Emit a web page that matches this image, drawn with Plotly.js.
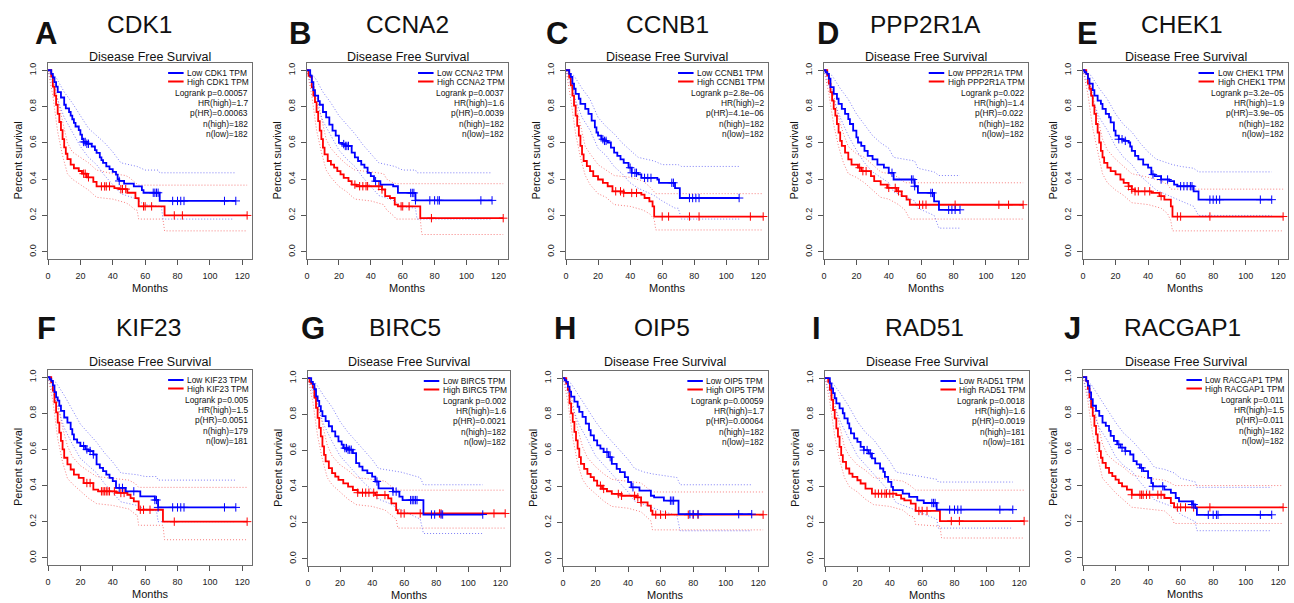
<!DOCTYPE html>
<html>
<head>
<meta charset="utf-8">
<script src="https://cdn.plot.ly/plotly-3.0.1.min.js"></script>
<style>
  html, body { margin: 0; padding: 0; background: #fff; }
  #chart { width: 1294px; height: 603px; }
</style>
</head>
<body>
<div id="chart"></div>
<script>
// ---- Kaplan–Meier step data: [months, survival] -------------------------
const genes   = ['CDK1','CCNA2','CCNB1','PPP2R1A','CHEK1','KIF23','BIRC5','OIP5','RAD51','RACGAP1'];
const letters = ['A','B','C','D','E','F','G','H','I','J'];
const xTicks  = [0, 20, 40, 60, 80, 100, 120];
const yTicks  = [0, 0.2, 0.4, 0.6, 0.8, 1.0];
const yTickText = ['0.0','0.2','0.4','0.6','0.8','1.0'];

// CDK1
const CDK1_low  = [[0,1],[2,0.98],[3,0.96],[4,0.935],[5,0.91],[6,0.88],[8,0.85],[10,0.81],[11,0.79],[13,0.77],[14,0.75],[15,0.73],[16,0.71],[17,0.69],[19,0.67],[20,0.645],[21,0.62],[22,0.605],[24,0.595],[27,0.58],[29,0.56],[30,0.545],[32,0.52],[33,0.505],[34,0.49],[36,0.47],[38,0.455],[40,0.44],[42,0.425],[43,0.4],[44,0.39],[47,0.375],[53,0.36],[58,0.34],[59,0.325],[69,0.28],[116,0.28]];
const CDK1_high = [[0,1],[2,0.965],[3,0.91],[4,0.86],[5,0.81],[6,0.76],[7,0.715],[8,0.67],[9,0.62],[10,0.575],[11,0.54],[12,0.51],[14,0.48],[16,0.46],[19,0.445],[21,0.43],[24,0.41],[28,0.385],[30,0.36],[41,0.35],[44,0.345],[49,0.325],[54,0.295],[56,0.25],[72,0.2],[123,0.2]];
const CDK1_lowCens  = [22,23,24,25,44,65,66,67,68,77,80,82,84,109,116];
const CDK1_highCens = [22,23,25,33,35,36,38,45,46,48,59,60,64,78,83,123];
const CDK1_lowUp  = [[0,1],[5,0.96],[10,0.88],[15,0.82],[20,0.75],[25,0.68],[30,0.64],[35,0.6],[40,0.55],[45,0.49],[55,0.47],[60,0.45],[68,0.45],[69,0.435],[116,0.435]];
const CDK1_lowDn  = [[0,1],[5,0.86],[10,0.74],[15,0.66],[20,0.58],[25,0.52],[30,0.48],[35,0.42],[40,0.37],[45,0.32],[55,0.29],[59,0.26],[70,0.25],[71,0.18],[114,0.18]];
const CDK1_highUp = [[0,1],[3,0.96],[6,0.84],[9,0.72],[12,0.6],[15,0.55],[20,0.52],[25,0.49],[30,0.45],[40,0.43],[48,0.42],[50,0.41],[54,0.38],[56,0.367],[123,0.367]];
const CDK1_highDn = [[0,1],[3,0.86],[6,0.66],[9,0.53],[12,0.43],[15,0.4],[20,0.37],[25,0.34],[30,0.3],[40,0.29],[48,0.27],[50,0.26],[54,0.23],[55,0.23],[56,0.18],[71,0.18],[72,0.115],[123,0.115]];
const CDK1_stats = ['Logrank p=0.00057','HR(high)=1.7','p(HR)=0.00063','n(high)=182','n(low)=182'];

// CCNA2
const CCNA2_low  = [[0,1],[2,0.97],[3,0.935],[4,0.89],[5,0.86],[7,0.83],[8,0.81],[10,0.77],[12,0.74],[14,0.7],[16,0.667],[18,0.64],[20,0.6],[22,0.593],[24,0.583],[28,0.546],[30,0.52],[32,0.5],[34,0.48],[36,0.463],[38,0.435],[40,0.417],[42,0.389],[46,0.37],[54,0.361],[57,0.324],[68,0.283],[116,0.283]];
const CCNA2_high = [[0,1],[1,0.97],[2,0.963],[3,0.907],[4,0.86],[5,0.824],[6,0.77],[7,0.72],[8,0.667],[9,0.62],[10,0.574],[11,0.537],[13,0.5],[15,0.48],[17,0.463],[19,0.444],[21,0.426],[23,0.407],[26,0.389],[28,0.37],[31,0.361],[47,0.343],[49,0.306],[52,0.296],[55,0.26],[57,0.25],[71,0.185],[123,0.185]];
const CCNA2_lowCens  = [23,24,25,26,43,65,66,67,68,77,80,82,83,109,116];
const CCNA2_highCens = [30,33,35,37,38,45,47,59,60,64,78,123];
const CCNA2_lowUp  = [[0,1],[5,0.96],[10,0.88],[15,0.82],[20,0.75],[25,0.7],[30,0.65],[35,0.59],[40,0.54],[45,0.49],[55,0.47],[60,0.45],[68,0.45],[69,0.435],[116,0.435]];
const CCNA2_lowDn  = [[0,1],[5,0.84],[10,0.72],[15,0.64],[20,0.56],[25,0.51],[30,0.47],[35,0.41],[40,0.36],[45,0.31],[55,0.28],[59,0.25],[68,0.24],[69,0.18],[116,0.18]];
const CCNA2_highUp = [[0,1],[3,0.96],[6,0.86],[9,0.74],[12,0.62],[15,0.57],[20,0.52],[25,0.48],[30,0.45],[40,0.44],[48,0.43],[50,0.4],[54,0.38],[56,0.375],[123,0.375]];
const CCNA2_highDn = [[0,1],[3,0.86],[6,0.67],[9,0.55],[12,0.45],[15,0.41],[20,0.36],[25,0.33],[30,0.29],[40,0.28],[48,0.26],[50,0.23],[54,0.2],[56,0.18],[71,0.18],[72,0.095],[123,0.095]];
const CCNA2_stats = ['Logrank p=0.0037','HR(high)=1.6','p(HR)=0.0039','n(high)=182','n(low)=182'];

// CCNB1
const CCNB1_low  = [[0,1],[2,0.98],[3,0.963],[4,0.926],[5,0.898],[6,0.87],[8,0.843],[9,0.815],[12,0.787],[14,0.76],[16,0.722],[18,0.685],[19,0.657],[20,0.64],[22,0.62],[24,0.611],[26,0.602],[28,0.574],[30,0.546],[32,0.528],[34,0.509],[36,0.49],[39,0.463],[41,0.435],[45,0.426],[47,0.407],[57,0.398],[58,0.38],[68,0.35],[71,0.296],[108,0.296]];
const CCNB1_high = [[0,1],[2,0.96],[3,0.917],[4,0.86],[5,0.805],[6,0.75],[7,0.694],[8,0.64],[9,0.583],[10,0.537],[11,0.5],[13,0.472],[15,0.444],[17,0.417],[20,0.398],[23,0.38],[26,0.361],[29,0.333],[36,0.324],[47,0.315],[49,0.296],[52,0.278],[54,0.25],[55,0.194],[123,0.194]];
const CCNB1_lowCens  = [23,24,25,40,41,43,44,49,51,53,66,67,77,79,81,83,108];
const CCNB1_highCens = [31,34,36,41,44,60,64,77,83,115,123];
const CCNB1_lowUp  = [[0,1],[5,0.97],[10,0.9],[15,0.84],[20,0.74],[25,0.69],[30,0.65],[35,0.6],[40,0.56],[45,0.52],[55,0.5],[60,0.48],[70,0.48],[72,0.47],[108,0.47]];
const CCNB1_lowDn  = [[0,1],[5,0.86],[10,0.74],[15,0.67],[20,0.57],[25,0.53],[30,0.47],[35,0.43],[40,0.38],[45,0.35],[55,0.31],[60,0.28],[68,0.24],[70,0.24],[72,0.18],[108,0.18]];
const CCNB1_highUp = [[0,1],[3,0.95],[6,0.82],[9,0.7],[12,0.58],[15,0.54],[20,0.48],[25,0.45],[30,0.42],[40,0.41],[48,0.39],[52,0.36],[55,0.33],[56,0.32],[123,0.32]];
const CCNB1_highDn = [[0,1],[3,0.84],[6,0.65],[9,0.52],[12,0.42],[15,0.37],[20,0.32],[25,0.3],[30,0.26],[40,0.25],[48,0.23],[52,0.21],[55,0.18],[56,0.12],[123,0.12]];
const CCNB1_stats = ['Logrank p=2.8e\u221206','HR(high)=2','p(HR)=4.1e\u221206','n(high)=182','n(low)=182'];

// PPP2R1A
const PPP2R1A_low  = [[0,1],[1,0.99],[2,0.98],[3,0.954],[4,0.907],[6,0.87],[8,0.843],[9,0.815],[11,0.787],[13,0.76],[15,0.731],[16,0.704],[18,0.667],[20,0.63],[21,0.602],[23,0.583],[25,0.556],[27,0.528],[30,0.509],[33,0.48],[37,0.463],[40,0.435],[43,0.398],[56,0.361],[58,0.324],[68,0.278],[71,0.231],[84,0.231]];
const PPP2R1A_high = [[0,1],[2,0.97],[3,0.926],[4,0.88],[5,0.833],[6,0.787],[7,0.75],[8,0.704],[9,0.657],[10,0.611],[11,0.583],[13,0.546],[15,0.509],[17,0.48],[21,0.463],[23,0.444],[29,0.417],[31,0.389],[35,0.37],[39,0.352],[45,0.333],[48,0.306],[51,0.287],[53,0.259],[123,0.259]];
const PPP2R1A_lowCens  = [42,54,55,56,66,67,77,79,81,84];
const PPP2R1A_highCens = [22,24,26,40,44,46,59,61,63,81,108,114,123];
const PPP2R1A_lowUp  = [[0,1],[5,0.97],[10,0.9],[15,0.84],[20,0.76],[25,0.7],[30,0.64],[35,0.6],[40,0.57],[43,0.52],[56,0.5],[58,0.46],[68,0.44],[71,0.42],[84,0.42]];
const PPP2R1A_lowDn  = [[0,1],[5,0.86],[10,0.74],[15,0.64],[20,0.56],[25,0.49],[30,0.44],[35,0.41],[40,0.38],[43,0.33],[56,0.28],[58,0.24],[68,0.2],[71,0.13],[84,0.13]];
const PPP2R1A_highUp = [[0,1],[3,0.96],[6,0.86],[9,0.74],[12,0.65],[15,0.58],[20,0.54],[25,0.52],[30,0.48],[35,0.44],[40,0.43],[46,0.41],[50,0.38],[53,0.38],[123,0.38]];
const PPP2R1A_highDn = [[0,1],[3,0.87],[6,0.7],[9,0.58],[12,0.49],[15,0.43],[20,0.41],[25,0.38],[30,0.34],[35,0.3],[40,0.29],[46,0.26],[50,0.23],[53,0.18],[123,0.18]];
const PPP2R1A_stats = ['Logrank p=0.022','HR(high)=1.4','p(HR)=0.022','n(high)=182','n(low)=182'];

// CHEK1
const CHEK1_low  = [[0,1],[1,0.99],[2,0.98],[3,0.954],[4,0.926],[6,0.89],[7,0.86],[9,0.833],[11,0.815],[12,0.787],[14,0.76],[16,0.741],[17,0.713],[19,0.667],[20,0.64],[22,0.62],[25,0.611],[28,0.602],[29,0.58],[30,0.556],[32,0.528],[34,0.509],[37,0.48],[40,0.463],[42,0.426],[44,0.417],[48,0.398],[53,0.389],[56,0.37],[58,0.361],[68,0.333],[71,0.287],[116,0.287]];
const CHEK1_high = [[0,1],[2,0.98],[3,0.926],[4,0.898],[5,0.86],[6,0.805],[7,0.76],[8,0.704],[9,0.657],[10,0.602],[11,0.556],[12,0.52],[13,0.49],[15,0.463],[17,0.444],[20,0.426],[23,0.398],[25,0.38],[28,0.361],[30,0.343],[32,0.333],[42,0.324],[47,0.306],[50,0.287],[54,0.25],[55,0.194],[123,0.194]];
const CHEK1_lowCens  = [22,24,26,43,48,52,60,62,64,66,67,78,80,82,84,109,116];
const CHEK1_highCens = [28,30,32,34,38,41,48,58,60,78,123];
const CHEK1_lowUp  = [[0,1],[5,0.97],[10,0.9],[15,0.84],[20,0.76],[25,0.7],[30,0.66],[35,0.6],[40,0.55],[45,0.51],[55,0.48],[60,0.47],[68,0.46],[71,0.44],[116,0.44]];
const CHEK1_lowDn  = [[0,1],[5,0.86],[10,0.74],[15,0.67],[20,0.58],[25,0.52],[30,0.48],[35,0.42],[40,0.38],[45,0.34],[55,0.3],[60,0.28],[68,0.25],[71,0.2],[116,0.2]];
const CHEK1_highUp = [[0,1],[3,0.97],[6,0.86],[9,0.74],[12,0.62],[15,0.56],[20,0.51],[25,0.47],[30,0.43],[40,0.41],[48,0.39],[52,0.37],[54,0.345],[123,0.345]];
const CHEK1_highDn = [[0,1],[3,0.87],[6,0.68],[9,0.55],[12,0.43],[15,0.38],[20,0.34],[25,0.31],[30,0.27],[40,0.26],[48,0.24],[52,0.21],[54,0.17],[55,0.115],[123,0.115]];
const CHEK1_stats = ['Logrank p=3.2e\u221205','HR(high)=1.9','p(HR)=3.9e\u221205','n(high)=182','n(low)=182'];

// KIF23
const KIF23_low  = [[0,1],[1,0.99],[2,0.98],[3,0.955],[4,0.918],[5,0.888],[6,0.87],[7,0.842],[8,0.814],[10,0.777],[12,0.749],[14,0.712],[15,0.684],[16,0.656],[18,0.638],[20,0.619],[23,0.6],[25,0.591],[28,0.572],[30,0.517],[32,0.498],[34,0.48],[36,0.461],[38,0.442],[40,0.424],[42,0.387],[48,0.368],[57,0.34],[66,0.32],[68,0.279],[116,0.279]];
const KIF23_high = [[0,1],[2,0.972],[3,0.926],[4,0.861],[5,0.805],[6,0.749],[7,0.693],[8,0.647],[9,0.6],[10,0.554],[12,0.517],[14,0.489],[16,0.461],[19,0.442],[22,0.414],[28,0.377],[31,0.368],[42,0.359],[49,0.349],[51,0.33],[53,0.312],[56,0.266],[71,0.2],[123,0.2]];
const KIF23_lowCens  = [22,24,26,28,44,46,53,66,67,68,77,80,82,84,109,116];
const KIF23_highCens = [24,26,33,34,35,36,37,38,41,45,47,57,59,63,78,123];
const KIF23_lowUp  = [[0,1],[5,0.97],[10,0.9],[15,0.82],[20,0.74],[25,0.69],[30,0.64],[35,0.58],[40,0.53],[45,0.47],[55,0.46],[60,0.45],[67,0.45],[68,0.43],[116,0.43]];
const KIF23_lowDn  = [[0,1],[5,0.86],[10,0.72],[15,0.63],[20,0.55],[25,0.51],[30,0.47],[35,0.41],[40,0.36],[45,0.31],[55,0.29],[60,0.27],[67,0.26],[68,0.2],[116,0.2]];
const KIF23_highUp = [[0,1],[3,0.96],[6,0.86],[9,0.72],[12,0.62],[15,0.56],[20,0.51],[25,0.48],[30,0.45],[40,0.44],[50,0.43],[54,0.41],[56,0.39],[123,0.39]];
const KIF23_highDn = [[0,1],[3,0.87],[6,0.66],[9,0.53],[12,0.44],[15,0.41],[20,0.37],[25,0.33],[30,0.3],[40,0.29],[50,0.27],[54,0.24],[55,0.24],[56,0.18],[71,0.18],[72,0.1],[123,0.1]];
const KIF23_stats = ['Logrank p=0.005','HR(high)=1.5','p(HR)=0.0051','n(high)=179','n(low)=181'];

// BIRC5
const BIRC5_low  = [[0,1],[2,0.98],[3,0.967],[4,0.939],[5,0.9],[6,0.874],[7,0.846],[8,0.818],[9,0.79],[11,0.762],[13,0.734],[15,0.706],[17,0.678],[19,0.65],[21,0.632],[22,0.613],[25,0.604],[28,0.585],[30,0.53],[32,0.51],[34,0.49],[37,0.474],[40,0.455],[42,0.428],[44,0.39],[53,0.372],[57,0.344],[59,0.325],[72,0.245],[109,0.245]];
const BIRC5_high = [[0,1],[1,0.98],[2,0.97],[3,0.948],[4,0.892],[5,0.836],[6,0.78],[7,0.725],[8,0.678],[9,0.623],[10,0.576],[11,0.539],[13,0.502],[15,0.474],[17,0.455],[19,0.437],[22,0.418],[25,0.4],[28,0.381],[31,0.366],[42,0.353],[50,0.335],[52,0.307],[55,0.27],[56,0.251],[123,0.251]];
const BIRC5_lowCens  = [23,24,25,26,27,43,53,55,64,65,66,67,68,77,79,83,84,109];
const BIRC5_highCens = [31,34,36,38,41,43,48,58,60,70,82,83,116,123];
const BIRC5_lowUp  = [[0,1],[5,0.97],[10,0.9],[15,0.84],[20,0.76],[25,0.7],[30,0.65],[35,0.6],[40,0.55],[44,0.5],[50,0.49],[58,0.48],[70,0.45],[72,0.41],[109,0.41]];
const BIRC5_lowDn  = [[0,1],[5,0.87],[10,0.74],[15,0.65],[20,0.57],[25,0.52],[30,0.47],[35,0.42],[40,0.38],[44,0.33],[50,0.31],[58,0.27],[70,0.22],[72,0.14],[109,0.14]];
const BIRC5_highUp = [[0,1],[3,0.96],[6,0.86],[9,0.74],[12,0.63],[15,0.57],[20,0.52],[25,0.49],[30,0.45],[40,0.44],[48,0.43],[52,0.4],[56,0.38],[123,0.38]];
const BIRC5_highDn = [[0,1],[3,0.87],[6,0.68],[9,0.55],[12,0.45],[15,0.41],[20,0.37],[25,0.33],[30,0.3],[40,0.29],[48,0.27],[52,0.24],[55,0.22],[56,0.17],[123,0.17]];
const BIRC5_stats = ['Logrank p=0.002','HR(high)=1.6','p(HR)=0.0021','n(high)=182','n(low)=182'];

// OIP5
const OIP5_low  = [[0,1],[1,0.99],[2,0.98],[3,0.953],[4,0.926],[5,0.898],[7,0.87],[9,0.842],[10,0.814],[12,0.786],[14,0.749],[16,0.712],[17,0.684],[19,0.656],[21,0.628],[23,0.61],[25,0.591],[28,0.563],[30,0.526],[33,0.498],[35,0.48],[38,0.452],[40,0.424],[42,0.396],[47,0.377],[54,0.349],[56,0.34],[62,0.322],[71,0.247],[116,0.247]];
const OIP5_high = [[0,1],[2,0.97],[3,0.935],[4,0.861],[5,0.805],[6,0.758],[7,0.703],[8,0.656],[9,0.61],[10,0.563],[11,0.526],[13,0.498],[15,0.47],[17,0.452],[19,0.433],[21,0.405],[24,0.387],[27,0.374],[30,0.359],[36,0.349],[45,0.34],[48,0.312],[52,0.294],[54,0.266],[55,0.244],[123,0.244]];
const OIP5_lowCens  = [27,29,43,66,67,68,78,80,83,108,116];
const OIP5_highCens = [23,25,34,36,44,46,48,57,60,63,77,80,83,123];
const OIP5_lowUp  = [[0,1],[5,0.97],[10,0.9],[15,0.83],[20,0.76],[25,0.7],[30,0.65],[35,0.6],[40,0.55],[44,0.5],[50,0.48],[55,0.47],[62,0.46],[70,0.45],[72,0.41],[116,0.41]];
const OIP5_lowDn  = [[0,1],[5,0.86],[10,0.74],[15,0.66],[20,0.57],[25,0.52],[30,0.47],[35,0.42],[40,0.37],[44,0.32],[50,0.3],[55,0.28],[62,0.26],[70,0.24],[72,0.155],[116,0.155]];
const OIP5_highUp = [[0,1],[3,0.96],[6,0.86],[9,0.72],[12,0.62],[15,0.56],[20,0.51],[25,0.47],[30,0.44],[40,0.43],[48,0.42],[52,0.39],[55,0.37],[123,0.37]];
const OIP5_highDn = [[0,1],[3,0.87],[6,0.67],[9,0.53],[12,0.44],[15,0.4],[20,0.36],[25,0.32],[30,0.29],[40,0.28],[48,0.26],[52,0.23],[54,0.21],[55,0.16],[123,0.16]];
const OIP5_stats = ['Logrank p=0.00059','HR(high)=1.7','p(HR)=0.00064','n(high)=182','n(low)=182'];

// RAD51
const RAD51_low  = [[0,1],[3,0.972],[4,0.944],[5,0.917],[6,0.889],[7,0.861],[9,0.833],[11,0.806],[12,0.778],[14,0.75],[15,0.722],[16,0.694],[18,0.667],[20,0.648],[22,0.62],[24,0.602],[27,0.583],[29,0.556],[31,0.528],[34,0.5],[36,0.481],[37,0.454],[39,0.426],[41,0.398],[42,0.38],[48,0.361],[52,0.343],[57,0.324],[61,0.309],[69,0.272],[116,0.272]];
const RAD51_high = [[0,1],[2,0.98],[3,0.935],[4,0.88],[5,0.824],[6,0.778],[7,0.722],[8,0.676],[9,0.62],[10,0.574],[11,0.537],[13,0.5],[15,0.472],[17,0.454],[20,0.435],[22,0.417],[25,0.389],[29,0.361],[44,0.352],[47,0.333],[49,0.324],[53,0.306],[56,0.265],[71,0.209],[123,0.209]];
const RAD51_lowCens  = [24,26,28,66,67,68,77,80,82,84,108,116];
const RAD51_highCens = [31,33,35,37,38,40,42,58,60,63,78,83,123];
const RAD51_lowUp  = [[0,1],[5,0.97],[10,0.91],[15,0.84],[20,0.76],[25,0.7],[30,0.66],[35,0.6],[40,0.54],[44,0.48],[50,0.47],[56,0.46],[63,0.45],[69,0.44],[70,0.425],[116,0.425]];
const RAD51_lowDn  = [[0,1],[5,0.86],[10,0.75],[15,0.66],[20,0.57],[25,0.52],[30,0.47],[35,0.42],[40,0.37],[44,0.31],[50,0.29],[56,0.27],[63,0.24],[69,0.22],[70,0.17],[116,0.17]];
const RAD51_highUp = [[0,1],[3,0.96],[6,0.86],[9,0.73],[12,0.62],[15,0.57],[20,0.52],[25,0.49],[30,0.45],[40,0.44],[48,0.43],[52,0.41],[56,0.38],[123,0.38]];
const RAD51_highDn = [[0,1],[3,0.87],[6,0.68],[9,0.55],[12,0.45],[15,0.4],[20,0.37],[25,0.33],[30,0.3],[40,0.29],[48,0.27],[52,0.24],[55,0.23],[56,0.19],[71,0.18],[72,0.115],[123,0.115]];
const RAD51_stats = ['Logrank p=0.0018','HR(high)=1.6','p(HR)=0.0019','n(high)=181','n(low)=181'];

// RACGAP1
const RACGAP1_low  = [[0,1],[2,0.98],[3,0.953],[4,0.916],[5,0.879],[6,0.842],[8,0.814],[10,0.786],[12,0.749],[14,0.73],[16,0.703],[17,0.675],[19,0.647],[21,0.628],[23,0.61],[26,0.591],[29,0.572],[31,0.535],[33,0.517],[35,0.498],[37,0.48],[40,0.442],[42,0.414],[43,0.396],[50,0.377],[54,0.359],[57,0.331],[59,0.312],[67,0.295],[69,0.275],[70,0.238],[116,0.238]];
const RACGAP1_high = [[0,1],[2,0.98],[3,0.935],[4,0.888],[5,0.833],[6,0.786],[7,0.73],[8,0.684],[9,0.638],[10,0.591],[11,0.554],[12,0.526],[14,0.498],[16,0.47],[18,0.452],[20,0.433],[22,0.414],[24,0.396],[27,0.377],[30,0.349],[50,0.331],[54,0.303],[56,0.279],[123,0.279]];
const RACGAP1_lowCens  = [22,24,26,36,43,49,67,68,77,80,82,83,109,116];
const RACGAP1_highCens = [30,35,36,37,39,41,46,48,58,60,63,68,78,123];
const RACGAP1_lowUp  = [[0,1],[5,0.96],[10,0.89],[15,0.82],[20,0.75],[25,0.69],[30,0.65],[35,0.6],[40,0.55],[44,0.5],[50,0.49],[56,0.47],[60,0.44],[69,0.42],[70,0.39],[116,0.39]];
const RACGAP1_lowDn  = [[0,1],[5,0.84],[10,0.72],[15,0.65],[20,0.56],[25,0.51],[30,0.48],[35,0.42],[40,0.37],[44,0.32],[50,0.3],[56,0.28],[60,0.24],[69,0.2],[70,0.15],[116,0.15]];
const RACGAP1_highUp = [[0,1],[3,0.96],[6,0.86],[9,0.74],[12,0.63],[15,0.57],[20,0.53],[25,0.5],[30,0.46],[40,0.44],[50,0.43],[55,0.41],[56,0.4],[123,0.4]];
const RACGAP1_highDn = [[0,1],[3,0.87],[6,0.68],[9,0.55],[12,0.44],[15,0.41],[20,0.36],[25,0.32],[30,0.28],[40,0.27],[50,0.26],[55,0.22],[56,0.19],[123,0.19]];
const RACGAP1_stats = ['Logrank p=0.011','HR(high)=1.5','p(HR)=0.011','n(high)=182','n(low)=182'];

// ---- panel assembly ------------------------------------------------------
const panels = [
  {low: CDK1_low, high: CDK1_high, lowCens: CDK1_lowCens, highCens: CDK1_highCens, lowUp: CDK1_lowUp, lowDn: CDK1_lowDn, highUp: CDK1_highUp, highDn: CDK1_highDn, stats: CDK1_stats},
  {low: CCNA2_low, high: CCNA2_high, lowCens: CCNA2_lowCens, highCens: CCNA2_highCens, lowUp: CCNA2_lowUp, lowDn: CCNA2_lowDn, highUp: CCNA2_highUp, highDn: CCNA2_highDn, stats: CCNA2_stats},
  {low: CCNB1_low, high: CCNB1_high, lowCens: CCNB1_lowCens, highCens: CCNB1_highCens, lowUp: CCNB1_lowUp, lowDn: CCNB1_lowDn, highUp: CCNB1_highUp, highDn: CCNB1_highDn, stats: CCNB1_stats},
  {low: PPP2R1A_low, high: PPP2R1A_high, lowCens: PPP2R1A_lowCens, highCens: PPP2R1A_highCens, lowUp: PPP2R1A_lowUp, lowDn: PPP2R1A_lowDn, highUp: PPP2R1A_highUp, highDn: PPP2R1A_highDn, stats: PPP2R1A_stats},
  {low: CHEK1_low, high: CHEK1_high, lowCens: CHEK1_lowCens, highCens: CHEK1_highCens, lowUp: CHEK1_lowUp, lowDn: CHEK1_lowDn, highUp: CHEK1_highUp, highDn: CHEK1_highDn, stats: CHEK1_stats},
  {low: KIF23_low, high: KIF23_high, lowCens: KIF23_lowCens, highCens: KIF23_highCens, lowUp: KIF23_lowUp, lowDn: KIF23_lowDn, highUp: KIF23_highUp, highDn: KIF23_highDn, stats: KIF23_stats},
  {low: BIRC5_low, high: BIRC5_high, lowCens: BIRC5_lowCens, highCens: BIRC5_highCens, lowUp: BIRC5_lowUp, lowDn: BIRC5_lowDn, highUp: BIRC5_highUp, highDn: BIRC5_highDn, stats: BIRC5_stats},
  {low: OIP5_low, high: OIP5_high, lowCens: OIP5_lowCens, highCens: OIP5_highCens, lowUp: OIP5_lowUp, lowDn: OIP5_lowDn, highUp: OIP5_highUp, highDn: OIP5_highDn, stats: OIP5_stats},
  {low: RAD51_low, high: RAD51_high, lowCens: RAD51_lowCens, highCens: RAD51_highCens, lowUp: RAD51_lowUp, lowDn: RAD51_lowDn, highUp: RAD51_highUp, highDn: RAD51_highDn, stats: RAD51_stats},
  {low: RACGAP1_low, high: RACGAP1_high, lowCens: RACGAP1_lowCens, highCens: RACGAP1_highCens, lowUp: RACGAP1_lowUp, lowDn: RACGAP1_lowDn, highUp: RACGAP1_highUp, highDn: RACGAP1_highDn, stats: RACGAP1_stats}
];

// ---- page geometry (pixels) ---------------------------------------------
const W = 1294, H = 603;
const boxes = [
  [48,252,63,259],[307,508,63,259],[566,768,63,259],[824,1028,63,259],[1083,1288,63,259],
  [48,252,370,565],[308,510,371,566],[563,768,371,566],[825,1029,371,566],[1083,1288,370,565]
];
const titleX  = [139.5, 407, 667.5, 925, 1182, 148, 405, 661.7, 924, 1182];
const letterX = [46, 299.7, 556.7, 828, 1087.8, 46.7, 312.5, 565, 816.7, 1072.5];
const titleY  = [24, 327.5];
const letterY = [34, 328];
const subY    = [56.7, 361.5];

const FONT = '"Liberation Sans", Arial, Helvetica, sans-serif';
const BLUE = '#0000ff', RED = '#ff0000';
const BLUE_CI = 'rgba(95,95,245,0.8)', RED_CI = 'rgba(245,95,95,0.8)';
const CI_DASH = '1px,2px';
const X_MAX = 126;

const px = v => v / W;
const py = v => 1 - v / H;

const ctx = document.createElement('canvas').getContext('2d');
function textWidth(s, size) {
  ctx.font = size + 'px ' + FONT;
  return ctx.measureText(s).width;
}
function survAt(steps, t) {
  let s = 1;
  for (const [tt, ss] of steps) { if (tt <= t) s = ss; else break; }
  return s;
}

const traces = [];
const layout = {
  width: W, height: H,
  margin: {l: 0, r: 0, t: 0, b: 0},
  paper_bgcolor: '#fff', plot_bgcolor: '#fff',
  showlegend: false,
  font: {family: FONT, color: '#111'},
  annotations: [], shapes: []
};

function note(text, x, y, size, opts) {
  layout.annotations.push(Object.assign({
    text, x: px(x), y: py(y), xref: 'paper', yref: 'paper',
    showarrow: false, xanchor: 'center', yanchor: 'middle',
    borderpad: 0, borderwidth: 0,
    font: {family: FONT, size, color: '#111'}
  }, opts || {}));
}

panels.forEach((p, i) => {
  const [x0, x1, y0, y1] = boxes[i];
  const row = i < 5 ? 0 : 1;
  const sfx = i === 0 ? '' : String(i + 1);
  const xa = 'x' + sfx, ya = 'y' + sfx;

  const axisCommon = {
    showline: true, mirror: true, linecolor: '#6e6e6e', linewidth: 1,
    ticks: 'outside', ticklen: 5, tickwidth: 1, tickcolor: '#555',
    showgrid: false, zeroline: false, fixedrange: true,
    tickfont: {family: FONT, size: 9, color: '#222'}
  };
  layout['xaxis' + sfx] = Object.assign({}, axisCommon, {
    domain: [px(x0), px(x1)], anchor: ya, range: [0, X_MAX],
    tickmode: 'array', tickvals: xTicks, ticklabelstandoff: 3
  });
  layout['yaxis' + sfx] = Object.assign({}, axisCommon, {
    domain: [py(y1), py(y0)], anchor: xa, range: [-0.04, 1.04],
    tickmode: 'array', tickvals: yTicks, ticktext: yTickText, tickangle: -90,
    ticklabelstandoff: 2
  });

  const line = (steps, color, width, dash, shape) => ({
    type: 'scatter', mode: 'lines', xaxis: xa, yaxis: ya, hoverinfo: 'skip',
    x: steps.map(d => d[0]), y: steps.map(d => d[1]),
    line: {color, width, dash, shape}
  });
  const cens = (times, steps, color) => ({
    type: 'scatter', mode: 'markers', xaxis: xa, yaxis: ya, hoverinfo: 'skip',
    x: times, y: times.map(t => survAt(steps, t)),
    marker: {symbol: 'cross-thin', size: 6, color, line: {color, width: 1}}
  });

  // confidence bands (fine dots), then the two survival curves with censor ticks
  traces.push(line(p.highUp, RED_CI, 1, CI_DASH, 'linear'));
  traces.push(line(p.highDn, RED_CI, 1, CI_DASH, 'linear'));
  traces.push(line(p.lowUp, BLUE_CI, 1, CI_DASH, 'linear'));
  traces.push(line(p.lowDn, BLUE_CI, 1, CI_DASH, 'linear'));
  traces.push(line(p.high, RED, 1.8, 'solid', 'hv'));
  traces.push(cens(p.highCens, p.high, RED));
  traces.push(line(p.low, BLUE, 1.8, 'solid', 'hv'));
  traces.push(cens(p.lowCens, p.low, BLUE));

  // headings
  note('<b>' + letters[i] + '</b>', letterX[i], letterY[row], 31);
  note(genes[i], titleX[i], titleY[row], 24.5);
  note('Disease Free Survival', (x0 + x1) / 2, subY[row], 12.5);
  note('Months', (x0 + x1) / 2, y1 + 29, 11);
  note('Percent survival', x0 - 30.5, (y0 + y1) / 2, 11, {textangle: -90});

  // legend keys and test statistics
  const LF = 8.4;
  const lowLab = 'Low ' + genes[i] + ' TPM', highLab = 'High ' + genes[i] + ' TPM';
  const legW = Math.max(textWidth(lowLab, LF), textWidth(highLab, LF));
  const textLeft = x1 - 3 - legW;
  [[lowLab, BLUE, 10], [highLab, RED, 18.5]].forEach(([lab, col, dy]) => {
    note(lab, textLeft, y0 + dy, LF, {xanchor: 'left'});
    layout.shapes.push({
      type: 'line', xref: 'paper', yref: 'paper',
      x0: px(textLeft - 19), x1: px(textLeft - 3.5), y0: py(y0 + dy), y1: py(y0 + dy),
      line: {color: col, width: 2}
    });
  });
  p.stats.forEach((s, k) => {
    note(s, x1 - 4.5, y0 + 30 + k * 10.2, LF, {xanchor: 'right'});
  });
});

Plotly.newPlot('chart', traces, layout, {displayModeBar: false, staticPlot: true});
</script>
</body>
</html>
